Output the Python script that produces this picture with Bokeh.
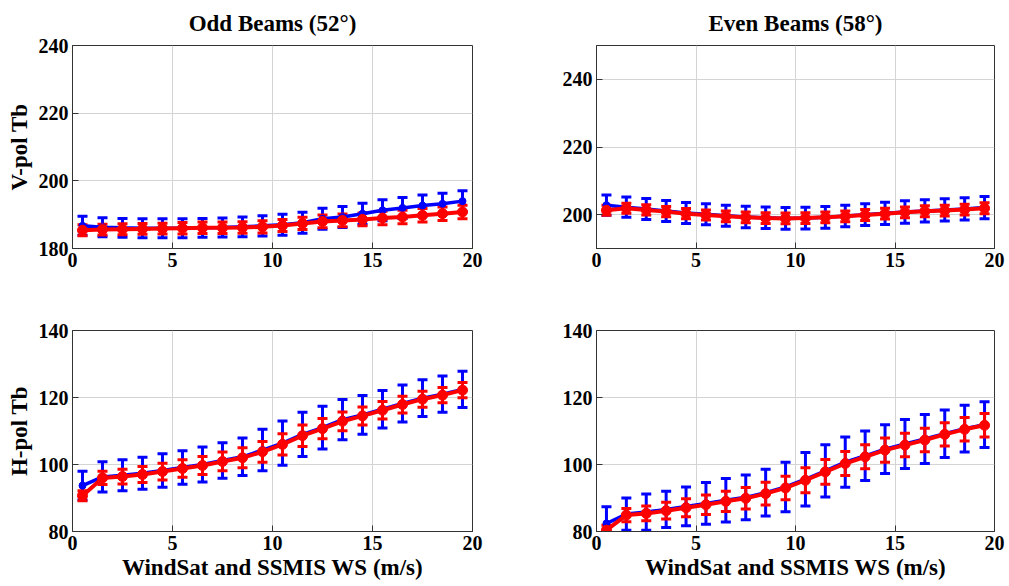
from bokeh.plotting import figure
from bokeh.layouts import column, row
from bokeh.models import ColumnDataSource, Whisker, TeeHead, FixedTicker, Range1d
from bokeh.embed import file_html
from bokeh.resources import INLINE

ws = [0.5, 1.5, 2.5, 3.5, 4.5, 5.5, 6.5, 7.5, 8.5, 9.5,
      10.5, 11.5, 12.5, 13.5, 14.5, 15.5, 16.5, 17.5, 18.5, 19.5]

# V-pol, odd beams (52 deg)
v_odd_blue = [186.7, 186.3, 186.1, 186.0, 186.0, 186.0, 186.1, 186.2, 186.4, 186.7,
              187.0, 187.6, 188.8, 189.3, 190.3, 191.3, 192.0, 192.7, 193.2, 194.0]
v_odd_blue_err = [2.8, 2.8, 2.8, 2.8, 2.8, 2.8, 2.8, 2.8, 2.9, 3.0,
                  3.1, 3.1, 3.1, 3.1, 3.1, 3.1, 3.1, 3.1, 3.1, 3.1]
v_odd_red = [185.4, 185.6, 185.7, 185.8, 185.9, 186.0, 186.1, 186.1, 186.2, 186.4,
             186.8, 187.4, 188.0, 188.3, 188.6, 189.0, 189.3, 189.8, 190.3, 190.8]
v_odd_red_err = [1.6, 1.6, 1.6, 1.6, 1.6, 1.7, 1.7, 1.7, 1.7, 1.8,
                 1.8, 1.8, 1.9, 1.9, 1.9, 2.0, 2.0, 2.0, 2.0, 2.0]

# V-pol, even beams (58 deg)
v_even_blue = [202.8, 202.2, 201.7, 201.1, 200.5, 200.1, 199.7, 199.3, 199.1, 198.9,
               199.0, 199.2, 199.6, 200.0, 200.4, 200.8, 201.1, 201.4, 201.7, 202.1]
v_even_blue_err = [3.0, 3.0, 3.1, 3.1, 3.1, 3.1, 3.1, 3.2, 3.2, 3.2,
                   3.2, 3.2, 3.2, 3.2, 3.3, 3.3, 3.3, 3.3, 3.3, 3.3]
v_even_red = [201.3, 201.9, 201.4, 200.9, 200.3, 199.9, 199.5, 199.2, 199.0, 198.9,
              199.0, 199.2, 199.5, 199.9, 200.3, 200.7, 201.0, 201.2, 201.5, 201.9]
v_even_red_err = [1.5, 1.5, 1.5, 1.5, 1.5, 1.5, 1.6, 1.6, 1.6, 1.6,
                  1.6, 1.6, 1.6, 1.6, 1.6, 1.6, 1.6, 1.6, 1.6, 1.6]

# H-pol, odd beams
h_odd_blue = [93.7, 96.3, 96.8, 97.4, 98.2, 99.1, 100.0, 101.2, 102.3, 104.3,
              106.4, 109.0, 111.0, 113.4, 114.8, 116.5, 118.2, 119.8, 121.0, 122.4]
h_odd_blue_err = [4.3, 4.5, 4.6, 4.8, 5.0, 5.0, 5.2, 5.3, 5.6, 6.2,
                  6.6, 6.6, 6.4, 6.0, 5.8, 5.6, 5.5, 5.5, 5.4, 5.4]
h_odd_red = [90.7, 96.0, 96.4, 97.0, 97.9, 98.8, 99.7, 100.9, 102.0, 103.8,
             106.0, 108.6, 110.7, 112.9, 114.5, 116.2, 117.9, 119.5, 120.7, 122.2]
h_odd_red_err = [1.5, 2.0, 2.2, 2.4, 2.5, 2.6, 2.7, 2.8, 3.0, 3.1,
                 3.2, 3.2, 3.0, 2.8, 2.7, 2.6, 2.5, 2.4, 2.3, 2.3]

# H-pol, even beams
h_even_blue = [82.4, 85.2, 85.8, 86.6, 87.5, 88.4, 89.3, 90.2, 91.6, 93.3,
               95.6, 98.1, 100.7, 102.6, 104.6, 106.1, 107.6, 109.2, 110.7, 111.9]
h_even_blue_err = [5.0, 4.8, 5.4, 5.4, 5.8, 6.2, 6.5, 6.7, 7.0, 7.4,
                   8.0, 7.8, 7.5, 7.4, 7.3, 7.3, 7.3, 7.1, 7.0, 6.8]
h_even_red = [80.4, 84.9, 85.4, 86.2, 87.1, 88.0, 89.0, 89.9, 91.3, 93.0,
              95.3, 97.8, 100.3, 102.3, 104.3, 105.8, 107.3, 109.0, 110.5, 111.7]
h_even_red_err = [1.5, 2.0, 2.2, 2.5, 2.7, 2.9, 3.0, 3.2, 3.4, 3.5,
                  3.7, 3.7, 3.6, 3.6, 3.6, 3.5, 3.5, 3.5, 3.5, 3.5]

x_ticks = [0, 5, 10, 15, 20]
titles = ["Odd Beams (52\u00b0)", "Even Beams (58\u00b0)"]
y_labels = ["V-pol Tb", "H-pol Tb"]
xlabel = "WindSat and SSMIS WS (m/s)"

FONT = "Liberation Serif"
BLUE = "#0000ff"
RED = "#ff0000"


def panel(blue, blue_err, red, red_err, yr, yticks, fw, fh,
          bl, br, bt, bb, title=None, ylabel=None, xlab=None):
    p = figure(frame_width=fw, frame_height=fh, output_backend="svg", toolbar_location=None,
               x_range=Range1d(0, 20), y_range=Range1d(*yr),
               min_border_left=bl, min_border_right=br, min_border_top=bt, min_border_bottom=bb,
               title=title)
    p.background_fill_color = "white"
    p.border_fill_color = "white"
    p.outline_line_color = "#333333"
    p.outline_line_width = 1
    if title:
        p.title.text_font = FONT
        p.title.text_font_size = "23px"
        p.title.text_font_style = "bold"
        p.title.align = "center"
        p.title.vertical_align = "top"
        p.title.text_color = "black"
        p.title.offset = 0
        p.title.standoff = 16
    for ax in (p.xaxis[0], p.yaxis[0]):
        ax.major_label_text_font = FONT
        ax.major_label_text_font_size = "20px"
        ax.major_label_text_font_style = "bold"
        ax.major_label_text_color = "black"
        ax.major_tick_in = 6
        ax.major_tick_out = 0
        ax.minor_tick_line_color = None
        ax.axis_line_color = "#333333"
        ax.major_tick_line_color = "#333333"
        ax.major_label_standoff = 4
        ax.axis_label_text_font = FONT
        ax.axis_label_text_font_size = "23px"
        ax.axis_label_text_font_style = "bold"
        ax.axis_label_text_color = "black"
    p.xaxis.ticker = FixedTicker(ticks=x_ticks)
    p.yaxis.ticker = FixedTicker(ticks=yticks)
    if ylabel:
        p.yaxis.axis_label = ylabel
        p.yaxis.axis_label_standoff = 4
    if xlab:
        p.xaxis.axis_label = xlab
        p.xaxis.axis_label_standoff = 2
    p.grid.grid_line_color = "#d4d4d4"
    p.grid.grid_line_width = 1

    src = ColumnDataSource(dict(
        x=ws, b=blue, bu=[v + e for v, e in zip(blue, blue_err)],
        bd=[v - e for v, e in zip(blue, blue_err)],
        r=red, ru=[v + e for v, e in zip(red, red_err)],
        rd=[v - e for v, e in zip(red, red_err)]))

    p.line("x", "b", source=src, line_color=BLUE, line_width=3.5)
    wb = Whisker(source=src, base="x", upper="bu", lower="bd", dimension="height",
                 line_color=BLUE, line_width=3,
                 upper_head=TeeHead(size=10, line_color=BLUE, line_width=3),
                 lower_head=TeeHead(size=10, line_color=BLUE, line_width=3))
    p.add_layout(wb)
    p.scatter("x", "b", source=src, size=7, color=BLUE)
    p.line("x", "r", source=src, line_color=RED, line_width=4)
    wr = Whisker(source=src, base="x", upper="ru", lower="rd", dimension="height",
                 line_color=RED, line_width=3,
                 upper_head=TeeHead(size=10, line_color=RED, line_width=3),
                 lower_head=TeeHead(size=10, line_color=RED, line_width=3))
    p.add_layout(wr)
    p.scatter("x", "r", source=src, size=10, color=RED)
    return p


tl = panel(v_odd_blue, v_odd_blue_err, v_odd_red, v_odd_red_err, (180, 240), [180, 200, 220, 240],
           400, 203, 72, 24, 45, 30, title=titles[0], ylabel=y_labels[0])
tr = panel(v_even_blue, v_even_blue_err, v_even_red, v_even_red_err, (190, 250), [200, 220, 240],
           398, 203, 100, 11, 45, 30, title=titles[1])
bl = panel(h_odd_blue, h_odd_blue_err, h_odd_red, h_odd_red_err, (80, 140), [80, 100, 120, 140],
           400, 201, 72, 24, 52, 45, ylabel=y_labels[1], xlab=xlabel)
br = panel(h_even_blue, h_even_blue_err, h_even_red, h_even_red_err, (80, 140), [80, 100, 120, 140],
           398, 201, 100, 11, 52, 45, xlab=xlabel)

layout = column(row(tl, tr), row(bl, br))
open("out.html", "w").write(file_html(layout, INLINE))
